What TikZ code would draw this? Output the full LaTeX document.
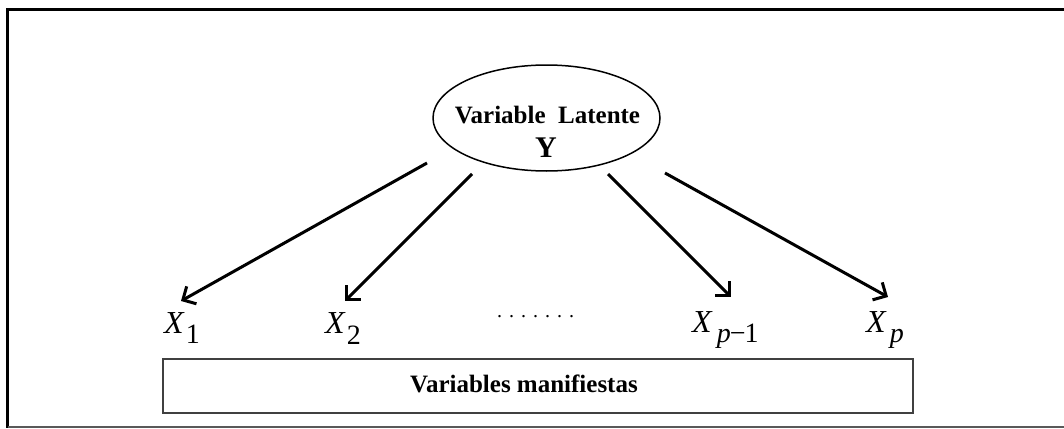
\documentclass[tikz,border=0pt]{standalone}
\usepackage{fontspec}
\setmainfont{Liberation Serif}
\usetikzlibrary{shapes.geometric,arrows.meta}
\begin{document}
\begin{tikzpicture}[x=1pt,y=-1pt,
  conn/.style={line width=3pt, -{Straight Barb[length=10pt,width=20pt,line width=3pt]}},
  lab/.style={inner sep=0pt, anchor=base west, font=\fontsize{32}{32}\selectfont},
  boldtxt/.style={inner sep=0pt, anchor=base, font=\bfseries\fontsize{25}{25}\selectfont}]
\useasboundingbox (0,0) rectangle (1064,428);
\fill[white] (0,0) rectangle (1064,428);
% frame
\draw[line width=2.8pt] (1066,9.5) -- (7.5,9.5) -- (7.5,427.5);
\draw[line width=1.3pt, black!65] (7.5,427) -- (1066,427);
% latent variable
\node[ellipse, draw, line width=1.5pt, minimum width=227pt, minimum height=106pt, inner sep=0pt] (lat) at (546.5,118) {};
\node[boldtxt] (latt) at (547.5,123) {Variable\ \ Latente};
\node[boldtxt, font=\bfseries\fontsize{30}{30}\selectfont] (y) at (546,157) {Y};
% manifest labels
\node[lab] (x1) at (164,333) {\textit{X}\kern1pt\raisebox{-10pt}{\fontsize{28}{28}\selectfont 1}};
\node[lab] (x2) at (325,333) {\textit{X}\kern1pt\raisebox{-11pt}{\fontsize{28}{28}\selectfont 2}};
\node[lab] (xp1) at (692,332) {\textit{X}\kern4pt\raisebox{-10pt}{\fontsize{28}{28}\selectfont\textit{p}\kern-1pt−\kern-1pt1}};
\node[lab] (xp) at (866,332) {\textit{X}\kern3pt\raisebox{-10pt}{\fontsize{28}{28}\selectfont\textit{p}}};
\node[inner sep=0pt, anchor=base west, font=\fontsize{20}{20}\selectfont] (dots) at (497,317) {.\kern7pt.\kern7pt.\kern7pt.\kern7pt.\kern7pt.\kern7pt.};
% connectors
\coordinate (s1) at (427,163); \coordinate (e1) at (181,301);
\coordinate (s2) at (472,174); \coordinate (e2) at (345,301);
\coordinate (s3) at (608,174); \coordinate (e3) at (731,297);
\coordinate (s4) at (665,173); \coordinate (e4) at (888,297);
\draw[conn] (s1) -- (e1);
\draw[conn] (s2) -- (e2);
\draw[conn] (s3) -- (e3);
\draw[conn] (s4) -- (e4);
% manifest box
\node[draw, line width=1.8pt, draw=black!75, minimum width=750pt, minimum height=54pt, inner sep=0pt] (box) at (538,386) {};
\node[boldtxt] (boxt) at (524,392) {Variables manifiestas};
\end{tikzpicture}
\end{document}
